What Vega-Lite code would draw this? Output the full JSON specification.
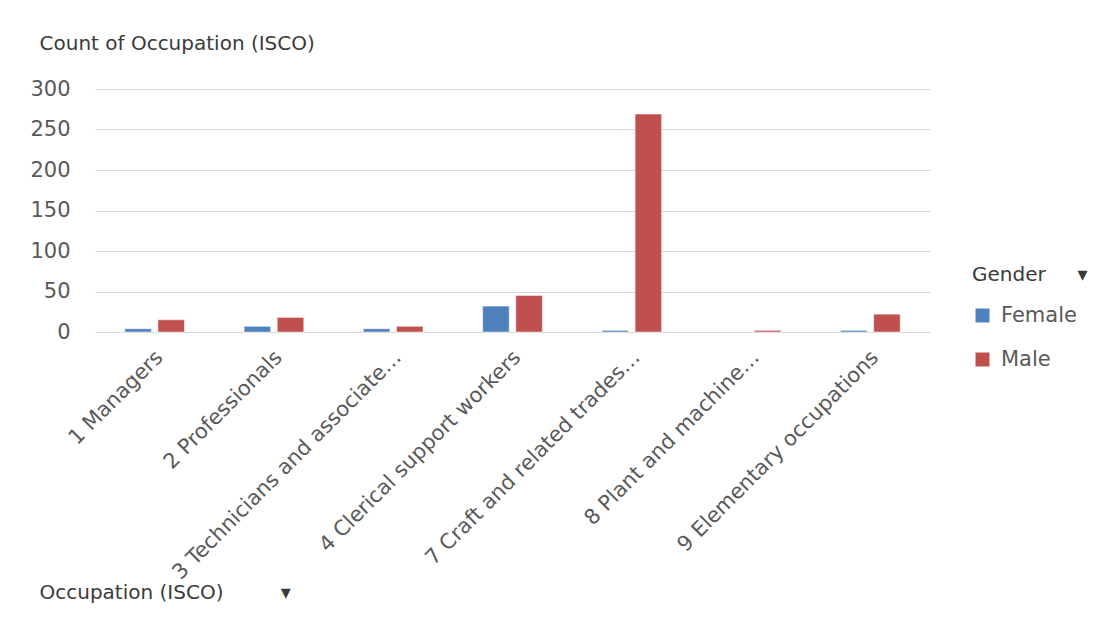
{
  "$schema": "https://vega.github.io/schema/vega-lite/v6.json",
  "autosize": "none",
  "width": 835,
  "height": 243,
  "padding": {"left": 95, "top": 89, "right": 190, "bottom": 295},
  "background": "#ffffff",
  "config": {
    "font": "DejaVu Sans",
    "view": {"stroke": null},
    "axis": {"labelFont": "DejaVu Sans", "titleFont": "DejaVu Sans"},
    "legend": {"labelFont": "DejaVu Sans", "titleFont": "DejaVu Sans"}
  },
  "data": {
    "values": [
      {"occupation": "1 Managers", "gender": "Female", "count": 4},
      {"occupation": "1 Managers", "gender": "Male", "count": 15},
      {"occupation": "2 Professionals", "gender": "Female", "count": 7},
      {"occupation": "2 Professionals", "gender": "Male", "count": 18},
      {"occupation": "3 Technicians and associate…", "gender": "Female", "count": 4},
      {"occupation": "3 Technicians and associate…", "gender": "Male", "count": 7},
      {"occupation": "4 Clerical support workers", "gender": "Female", "count": 32},
      {"occupation": "4 Clerical support workers", "gender": "Male", "count": 45},
      {"occupation": "7 Craft and related trades…", "gender": "Female", "count": 2},
      {"occupation": "7 Craft and related trades…", "gender": "Male", "count": 269},
      {"occupation": "8 Plant and machine…", "gender": "Male", "count": 2},
      {"occupation": "9 Elementary occupations", "gender": "Female", "count": 2},
      {"occupation": "9 Elementary occupations", "gender": "Male", "count": 22}
    ]
  },
  "mark": {"type": "bar", "stroke": "#ffffff", "strokeOpacity": 0.6, "strokeWidth": 0.8},
  "encoding": {
    "x": {
      "field": "occupation",
      "type": "nominal",
      "sort": null,
      "scale": {"paddingInner": 0.5, "paddingOuter": 0.25},
      "axis": {
        "title": "Occupation (ISCO)\u00a0\u00a0\u00a0\u00a0\u00a0\u00a0\u00a0\u00a0\u00a0▾",
        "titleX": -56,
        "titleY": 260,
        "titleAlign": "left",
        "titleAnchor": null,
        "titleBaseline": "middle",
        "titleFontSize": 20,
        "titleFontWeight": "normal",
        "titleColor": "#3a3a3a",
        "labelAngle": -45,
        "labelAlign": "right",
        "labelBaseline": "middle",
        "labelFontSize": 21,
        "labelColor": "#595959",
        "labelPadding": 22,
        "labelOffset": 5,
        "labelLimit": 500,
        "labelOverlap": false,
        "domain": false,
        "ticks": false,
        "grid": false
      }
    },
    "xOffset": {
      "field": "gender",
      "type": "nominal",
      "scale": {"domain": ["Female", "Male"], "paddingInner": 0.2, "paddingOuter": 0}
    },
    "y": {
      "field": "count",
      "type": "quantitative",
      "scale": {"domain": [0, 300], "nice": false},
      "axis": {
        "values": [0, 50, 100, 150, 200, 250, 300],
        "title": "Count of Occupation (ISCO)",
        "titleAngle": 0,
        "titleX": -56,
        "titleY": -46,
        "titleAlign": "left",
        "titleAnchor": null,
        "titleBaseline": "middle",
        "titleFontSize": 20,
        "titleFontWeight": "normal",
        "titleColor": "#3a3a3a",
        "labelFontSize": 21,
        "labelColor": "#595959",
        "labelPadding": 25,
        "domain": false,
        "ticks": false,
        "grid": true,
        "gridColor": "#d9d9d9",
        "gridWidth": 1.2
      }
    },
    "color": {
      "field": "gender",
      "type": "nominal",
      "scale": {"domain": ["Female", "Male"], "range": ["#4f81bd", "#c0504d"]},
      "legend": {
        "title": "Gender\u00a0\u00a0\u00a0\u00a0\u00a0▾",
        "orient": "none",
        "legendX": 877,
        "legendY": 176,
        "titleFontSize": 20,
        "titleFontWeight": "normal",
        "titleColor": "#3a3a3a",
        "titlePadding": 20,
        "labelFontSize": 21,
        "labelColor": "#595959",
        "labelOffset": 8,
        "symbolType": "square",
        "symbolSize": 196,
        "symbolStrokeWidth": 0,
        "rowPadding": 22
      }
    }
  }
}
